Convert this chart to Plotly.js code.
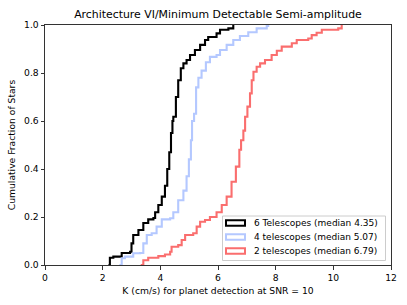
<!DOCTYPE html>
<html>
<head>
<meta charset="utf-8">
<script src="https://cdn.plot.ly/plotly-3.0.1.min.js"></script>
<style>html,body{margin:0;padding:0;background:#fff;}#chart{width:407px;height:305px;}</style>
</head>
<body>
<div id="chart"></div>
<script>
// 6 telescopes (median 4.35)
const k6 = [2.20, 2.25, 2.37, 2.66, 2.95, 3.00, 3.06, 3.24, 3.41, 3.58, 3.76, 3.82, 3.93, 4.05, 4.16, 4.24, 4.31, 4.37, 4.42, 4.45, 4.54, 4.62, 4.71, 4.80, 4.91, 5.03, 5.20, 5.38, 5.55, 5.66, 5.95, 6.07, 6.36, 6.53];
const f6 = [0.000, 0.030, 0.035, 0.050, 0.055, 0.090, 0.125, 0.146, 0.175, 0.190, 0.196, 0.220, 0.250, 0.285, 0.330, 0.400, 0.470, 0.550, 0.600, 0.618, 0.700, 0.770, 0.820, 0.840, 0.854, 0.875, 0.896, 0.917, 0.9375, 0.950, 0.965, 0.980, 0.986, 1.000];
// 4 telescopes (median 5.07)
const k4 = [2.58, 2.66, 2.77, 3.06, 3.30, 3.41, 3.53, 3.70, 3.87, 4.05, 4.34, 4.45, 4.62, 4.80, 4.91, 4.99, 5.06, 5.10, 5.17, 5.24, 5.32, 5.43, 5.58, 5.72, 5.95, 6.07, 6.30, 6.53, 6.76, 7.05, 7.34, 7.69, 7.74];
const f4 = [0.000, 0.028, 0.035, 0.049, 0.050, 0.090, 0.125, 0.132, 0.160, 0.190, 0.195, 0.220, 0.270, 0.310, 0.370, 0.440, 0.520, 0.600, 0.630, 0.740, 0.780, 0.810, 0.845, 0.867, 0.875, 0.896, 0.917, 0.9375, 0.954, 0.970, 0.986, 0.996, 1.000];
// 2 telescopes (median 6.79)
const k2 = [3.32, 3.41, 3.58, 3.93, 4.16, 4.34, 4.39, 4.62, 4.74, 4.86, 5.14, 5.26, 5.38, 5.55, 5.72, 5.95, 6.13, 6.30, 6.47, 6.62, 6.74, 6.80, 6.88, 6.94, 7.02, 7.11, 7.17, 7.23, 7.34, 7.46, 7.63, 7.86, 8.04, 8.21, 8.56, 8.73, 9.13, 9.25, 9.42, 9.60, 10.17, 10.29];
const f2 = [0.000, 0.020, 0.030, 0.037, 0.044, 0.055, 0.076, 0.083, 0.104, 0.125, 0.132, 0.160, 0.180, 0.1875, 0.200, 0.220, 0.250, 0.285, 0.347, 0.410, 0.480, 0.520, 0.560, 0.618, 0.660, 0.715, 0.770, 0.805, 0.826, 0.840, 0.854, 0.875, 0.893, 0.910, 0.924, 0.9375, 0.944, 0.958, 0.968, 0.980, 0.986, 1.000];

const names = ['6 Telescopes (median 4.35)', '4 telescopes (median 5.07)', '2 telescopes (median 6.79)'];
const colors = ['#000000', 'rgb(180,200,255)', 'rgb(250,110,110)'];
const xTicks = [0, 2, 4, 6, 8, 10, 12];
const yTicks = [0.0, 0.2, 0.4, 0.6, 0.8, 1.0];

const series = [[k6, f6], [k4, f4], [k2, f2]];
const traces = series.map((s, i) => ({
  x: s[0], y: s[1], type: 'scatter', mode: 'lines',
  line: {shape: 'hv', color: colors[i], width: 2.1},
  name: names[i], showlegend: false, hoverinfo: 'skip'
}));

const font = {family: 'DejaVu Sans, sans-serif', size: 9.2, color: '#000'};

// manual legend (matplotlib-style outlined patches)
const shapes = [{
  type: 'rect', xref: 'paper', yref: 'paper',
  x0: (222.5 - 45) / 346, x1: (385.5 - 45) / 346,
  y0: (265 - 260.5) / 240, y1: (265 - 216) / 240,
  line: {color: '#cccccc', width: 1}, fillcolor: 'rgba(255,255,255,0.85)', layer: 'above'
}];
const annotations = [];
const rowY = [223, 237, 251];
names.forEach((n, i) => {
  shapes.push({
    type: 'rect', xref: 'paper', yref: 'paper',
    x0: (226 - 45) / 346, x1: (245 - 45) / 346,
    y0: (265 - (rowY[i] + 2.8)) / 240, y1: (265 - (rowY[i] - 2.8)) / 240,
    line: {color: colors[i], width: 2}, fillcolor: 'rgba(0,0,0,0)', layer: 'above'
  });
  annotations.push({
    xref: 'paper', yref: 'paper', x: (252 - 45) / 346, y: (265 - rowY[i]) / 240,
    xanchor: 'left', yanchor: 'middle', text: n, showarrow: false,
    font: {family: 'DejaVu Sans, sans-serif', size: 9, color: '#000'}
  });
});

const layout = {
  width: 407, height: 305,
  margin: {l: 45, r: 16, t: 25, b: 40, pad: 0},
  paper_bgcolor: '#fff', plot_bgcolor: '#fff',
  font: font,
  showlegend: false,
  title: {text: 'Architecture VI/Minimum Detectable Semi-amplitude', font: {family: 'DejaVu Sans, sans-serif', size: 10.9, color: '#000'}, x: 0.5356, xanchor: 'center', y: 0.955, yanchor: 'middle'},
  xaxis: {
    range: [0, 12], tickvals: xTicks, ticktext: xTicks.map(String),
    ticks: 'outside', ticklen: 3.5, tickwidth: 0.8, tickcolor: '#000',
    showline: true, mirror: true, linecolor: '#333', linewidth: 1,
    showgrid: false, zeroline: false, tickfont: font,
    title: {text: 'K (cm/s) for planet detection at SNR = 10', font: font, standoff: 6}
  },
  yaxis: {
    range: [0, 1], tickvals: yTicks, ticktext: yTicks.map(v => v.toFixed(1)),
    ticks: 'outside', ticklen: 3.5, tickwidth: 0.8, tickcolor: '#000',
    showline: true, mirror: true, linecolor: '#333', linewidth: 1,
    showgrid: false, zeroline: false, tickfont: font,
    title: {text: 'Cumulative Fraction of Stars', font: font, standoff: 6}
  },
  shapes: shapes,
  annotations: annotations
};

Plotly.newPlot('chart', traces, layout, {displayModeBar: false, staticPlot: true});
</script>
</body>
</html>
